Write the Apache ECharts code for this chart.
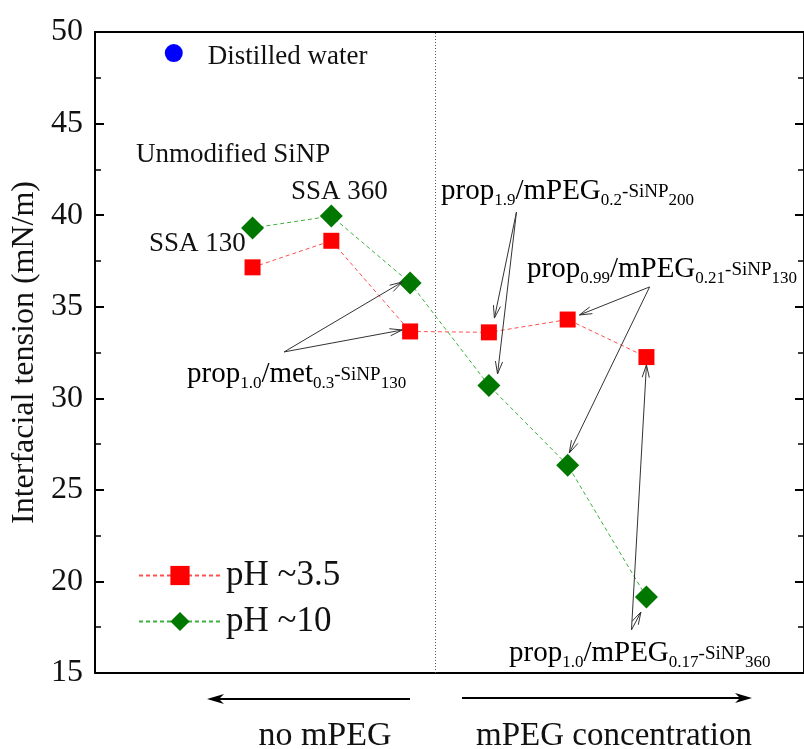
<!DOCTYPE html>
<html>
<head>
<meta charset="utf-8">
<script src="https://cdn.jsdelivr.net/npm/echarts@6/dist/echarts.min.js"></script>
<style>
  html, body { margin: 0; padding: 0; background: #fff; }
  #chart { width: 804px; height: 749px; }
</style>
</head>
<body>
<div id="chart"></div>
<script>
// sample positions along x (no mPEG -> increasing mPEG)
const xPos = [2, 3, 4, 5, 6, 7]
const phLow = [37.15, 38.6, 33.65, 33.6, 34.3, 32.25]   // pH ~3.5
const phHigh = [39.3, 39.95, 36.3, 30.7, 26.35, 19.15]  // pH ~10
const water = [[1, 48.85]]
const yTicks = [15, 20, 25, 30, 35, 40, 45, 50]
const dividerX = 4.32

// annotation arrows: start (label) -> end (marker)
const arrowStart = [[2.40, 32.53], [2.40, 32.53], [5.35, 40.17], [5.35, 40.17], [7.04, 36.08], [7.04, 36.08], [6.81, 17.35], [6.81, 17.35]]
const arrowEnd = [[3.90, 36.35], [3.90, 33.73], [5.07, 34.38], [5.11, 31.33], [6.15, 34.55], [6.02, 27.01], [7.00, 31.82], [6.93, 18.33]]

const FONT = 'Liberation Serif'
const INK = '#111'

const chart = echarts.init(document.getElementById('chart'))

const rich = {
  m: { fontSize: 29, fontFamily: FONT, color: INK, verticalAlign: 'bottom', padding: [0, 0, 3, 0] },
  s: { fontSize: 17, fontFamily: FONT, color: INK, verticalAlign: 'bottom' },
  k: { fontSize: 19, fontFamily: FONT, color: INK, verticalAlign: 'bottom', padding: [0, 0, 7, 0] }
}

function chemLabel(text, x, y) {
  return {
    type: 'text', x, y, z: 50,
    style: { text, rich, textVerticalAlign: 'middle', textAlign: 'left' }
  }
}
function plainLabel(text, x, y, size) {
  return {
    type: 'text', x, y, z: 50,
    style: { text, font: `${size}px "${FONT}"`, fill: INK, textVerticalAlign: 'middle', textAlign: 'left' }
  }
}
function bigArrow(x1, x2, y) {
  const dir = x2 > x1 ? 1 : -1
  return [
    { type: 'line', shape: { x1, y1: y, x2: x2 - dir * 6, y2: y }, style: { stroke: '#000', lineWidth: 2 } },
    { type: 'polygon', shape: { points: [[x2, y], [x2 - dir * 17, y - 5], [x2 - dir * 12, y], [x2 - dir * 17, y + 5]] }, style: { fill: '#000' } }
  ]
}

const option = {
  animation: false,
  backgroundColor: '#fff',
  textStyle: { fontFamily: FONT },
  grid: { left: 95, top: 32, width: 710, height: 641 },
  legend: {
    data: ['pH ~3.5', 'pH ~10'],
    orient: 'vertical',
    left: 133,
    top: 553,
    itemWidth: 82,
    itemHeight: 24,
    itemGap: 11,
    textStyle: { fontSize: 35, fontFamily: FONT, color: INK }
  },
  xAxis: [
    {
      type: 'value', min: 0, max: 9, position: 'bottom',
      axisLine: { show: true, onZero: false, lineStyle: { color: '#000', width: 2 } },
      axisTick: { show: false }, axisLabel: { show: false }, splitLine: { show: false }
    },
    {
      type: 'value', min: 0, max: 9, position: 'top',
      axisLine: { show: true, onZero: false, lineStyle: { color: '#000', width: 2 } },
      axisTick: { show: false }, axisLabel: { show: false }, splitLine: { show: false }
    }
  ],
  yAxis: [
    {
      type: 'value', min: 15, max: 50, interval: 5, position: 'left',
      name: 'Interfacial tension (mN/m)',
      nameLocation: 'middle', nameGap: 53,
      nameTextStyle: { fontSize: 32, fontFamily: FONT, color: INK },
      axisLine: { show: true, onZero: false, lineStyle: { color: '#000', width: 2 } },
      axisTick: { show: true, inside: true, length: 9, lineStyle: { color: '#000', width: 2 } },
      minorTick: { show: true, splitNumber: 2, length: 6, lineStyle: { color: '#000', width: 1.5 } },
      axisLabel: { fontSize: 32, fontFamily: FONT, color: INK, margin: 12, customValues: yTicks },
      splitLine: { show: false }
    },
    {
      type: 'value', min: 15, max: 50, interval: 5, position: 'right',
      axisLine: { show: true, onZero: false, lineStyle: { color: '#000', width: 2 } },
      axisTick: { show: true, inside: true, length: 9, lineStyle: { color: '#000', width: 2 } },
      minorTick: { show: true, splitNumber: 2, length: 6, lineStyle: { color: '#000', width: 1.5 } },
      axisLabel: { show: false },
      splitLine: { show: false }
    }
  ],
  series: [
    {
      name: 'pH ~3.5',
      type: 'line',
      data: xPos.map((x, i) => [x, phLow[i]]),
      symbol: 'rect',
      symbolSize: 16,
      itemStyle: { color: '#ff0000' },
      lineStyle: { color: '#ff5050', width: 1, type: [4, 3] },
      z: 3,
      markLine: {
        silent: true,
        symbol: 'none',
        label: { show: false },
        lineStyle: { color: '#555', width: 1, type: [1, 2] },
        data: [{ xAxis: dividerX }]
      }
    },
    {
      name: 'pH ~10',
      type: 'line',
      data: xPos.map((x, i) => [x, phHigh[i]]),
      symbol: 'diamond',
      symbolSize: 23,
      itemStyle: { color: '#007800' },
      lineStyle: { color: '#3cb03c', width: 1, type: [4, 3] },
      z: 3
    },
    {
      name: 'Distilled water',
      type: 'scatter',
      data: water,
      symbol: 'circle',
      symbolSize: 18,
      itemStyle: { color: '#0000ff', opacity: 1 },
      label: {
        show: true, position: 'right', distance: 25,
        formatter: 'Distilled water',
        fontSize: 27, fontFamily: FONT, color: INK, opacity: 1, offset: [0, 4]
      }
    },
    {
      name: 'arrows',
      type: 'custom',
      silent: true,
      z: 4,
      data: arrowStart.map((s, i) => [s[0], s[1], arrowEnd[i][0], arrowEnd[i][1]]),
      encode: { x: [0, 2], y: [1, 3] },
      renderItem: (params, api) => {
        const a = api.coord([api.value(0), api.value(1)])
        const b = api.coord([api.value(2), api.value(3)])
        const ang = Math.atan2(b[1] - a[1], b[0] - a[0])
        const L = 13, w = 0.28
        const h1 = [b[0] - L * Math.cos(ang - w), b[1] - L * Math.sin(ang - w)]
        const h2 = [b[0] - L * Math.cos(ang + w), b[1] - L * Math.sin(ang + w)]
        return {
          type: 'group',
          children: [
            { type: 'line', shape: { x1: a[0], y1: a[1], x2: b[0], y2: b[1] }, style: { stroke: '#333', lineWidth: 1 } },
            { type: 'polyline', shape: { points: [h1, b, h2] }, style: { stroke: '#333', fill: null, lineWidth: 1 } }
          ]
        }
      }
    }
  ],
  graphic: [
    plainLabel('Unmodified SiNP', 136, 155, 27),
    plainLabel('SSA 360', 291, 192, 27),
    plainLabel('SSA 130', 149, 244, 27),
    chemLabel('{m|prop}{s|1.0}{m|/met}{s|0.3}{k|-SiNP}{s|130}', 187, 376),
    chemLabel('{m|prop}{s|1.9}{m|/mPEG}{s|0.2}{k|-SiNP}{s|200}', 441, 193),
    chemLabel('{m|prop}{s|0.99}{m|/mPEG}{s|0.21}{k|-SiNP}{s|130}', 527, 271),
    chemLabel('{m|prop}{s|1.0}{m|/mPEG}{s|0.17}{k|-SiNP}{s|360}', 509, 655),
    ...bigArrow(410, 207, 699),
    ...bigArrow(462, 752, 698),
    {
      type: 'text', x: 325, y: 736,
      style: { text: 'no mPEG', font: `34px "${FONT}"`, fill: INK, textAlign: 'center', textVerticalAlign: 'middle' }
    },
    {
      type: 'text', x: 614, y: 736,
      style: { text: 'mPEG concentration', font: `33px "${FONT}"`, fill: INK, textAlign: 'center', textVerticalAlign: 'middle' }
    }
  ]
}

chart.setOption(option)
window.addEventListener('resize', () => chart.resize())
</script>
</body>
</html>
